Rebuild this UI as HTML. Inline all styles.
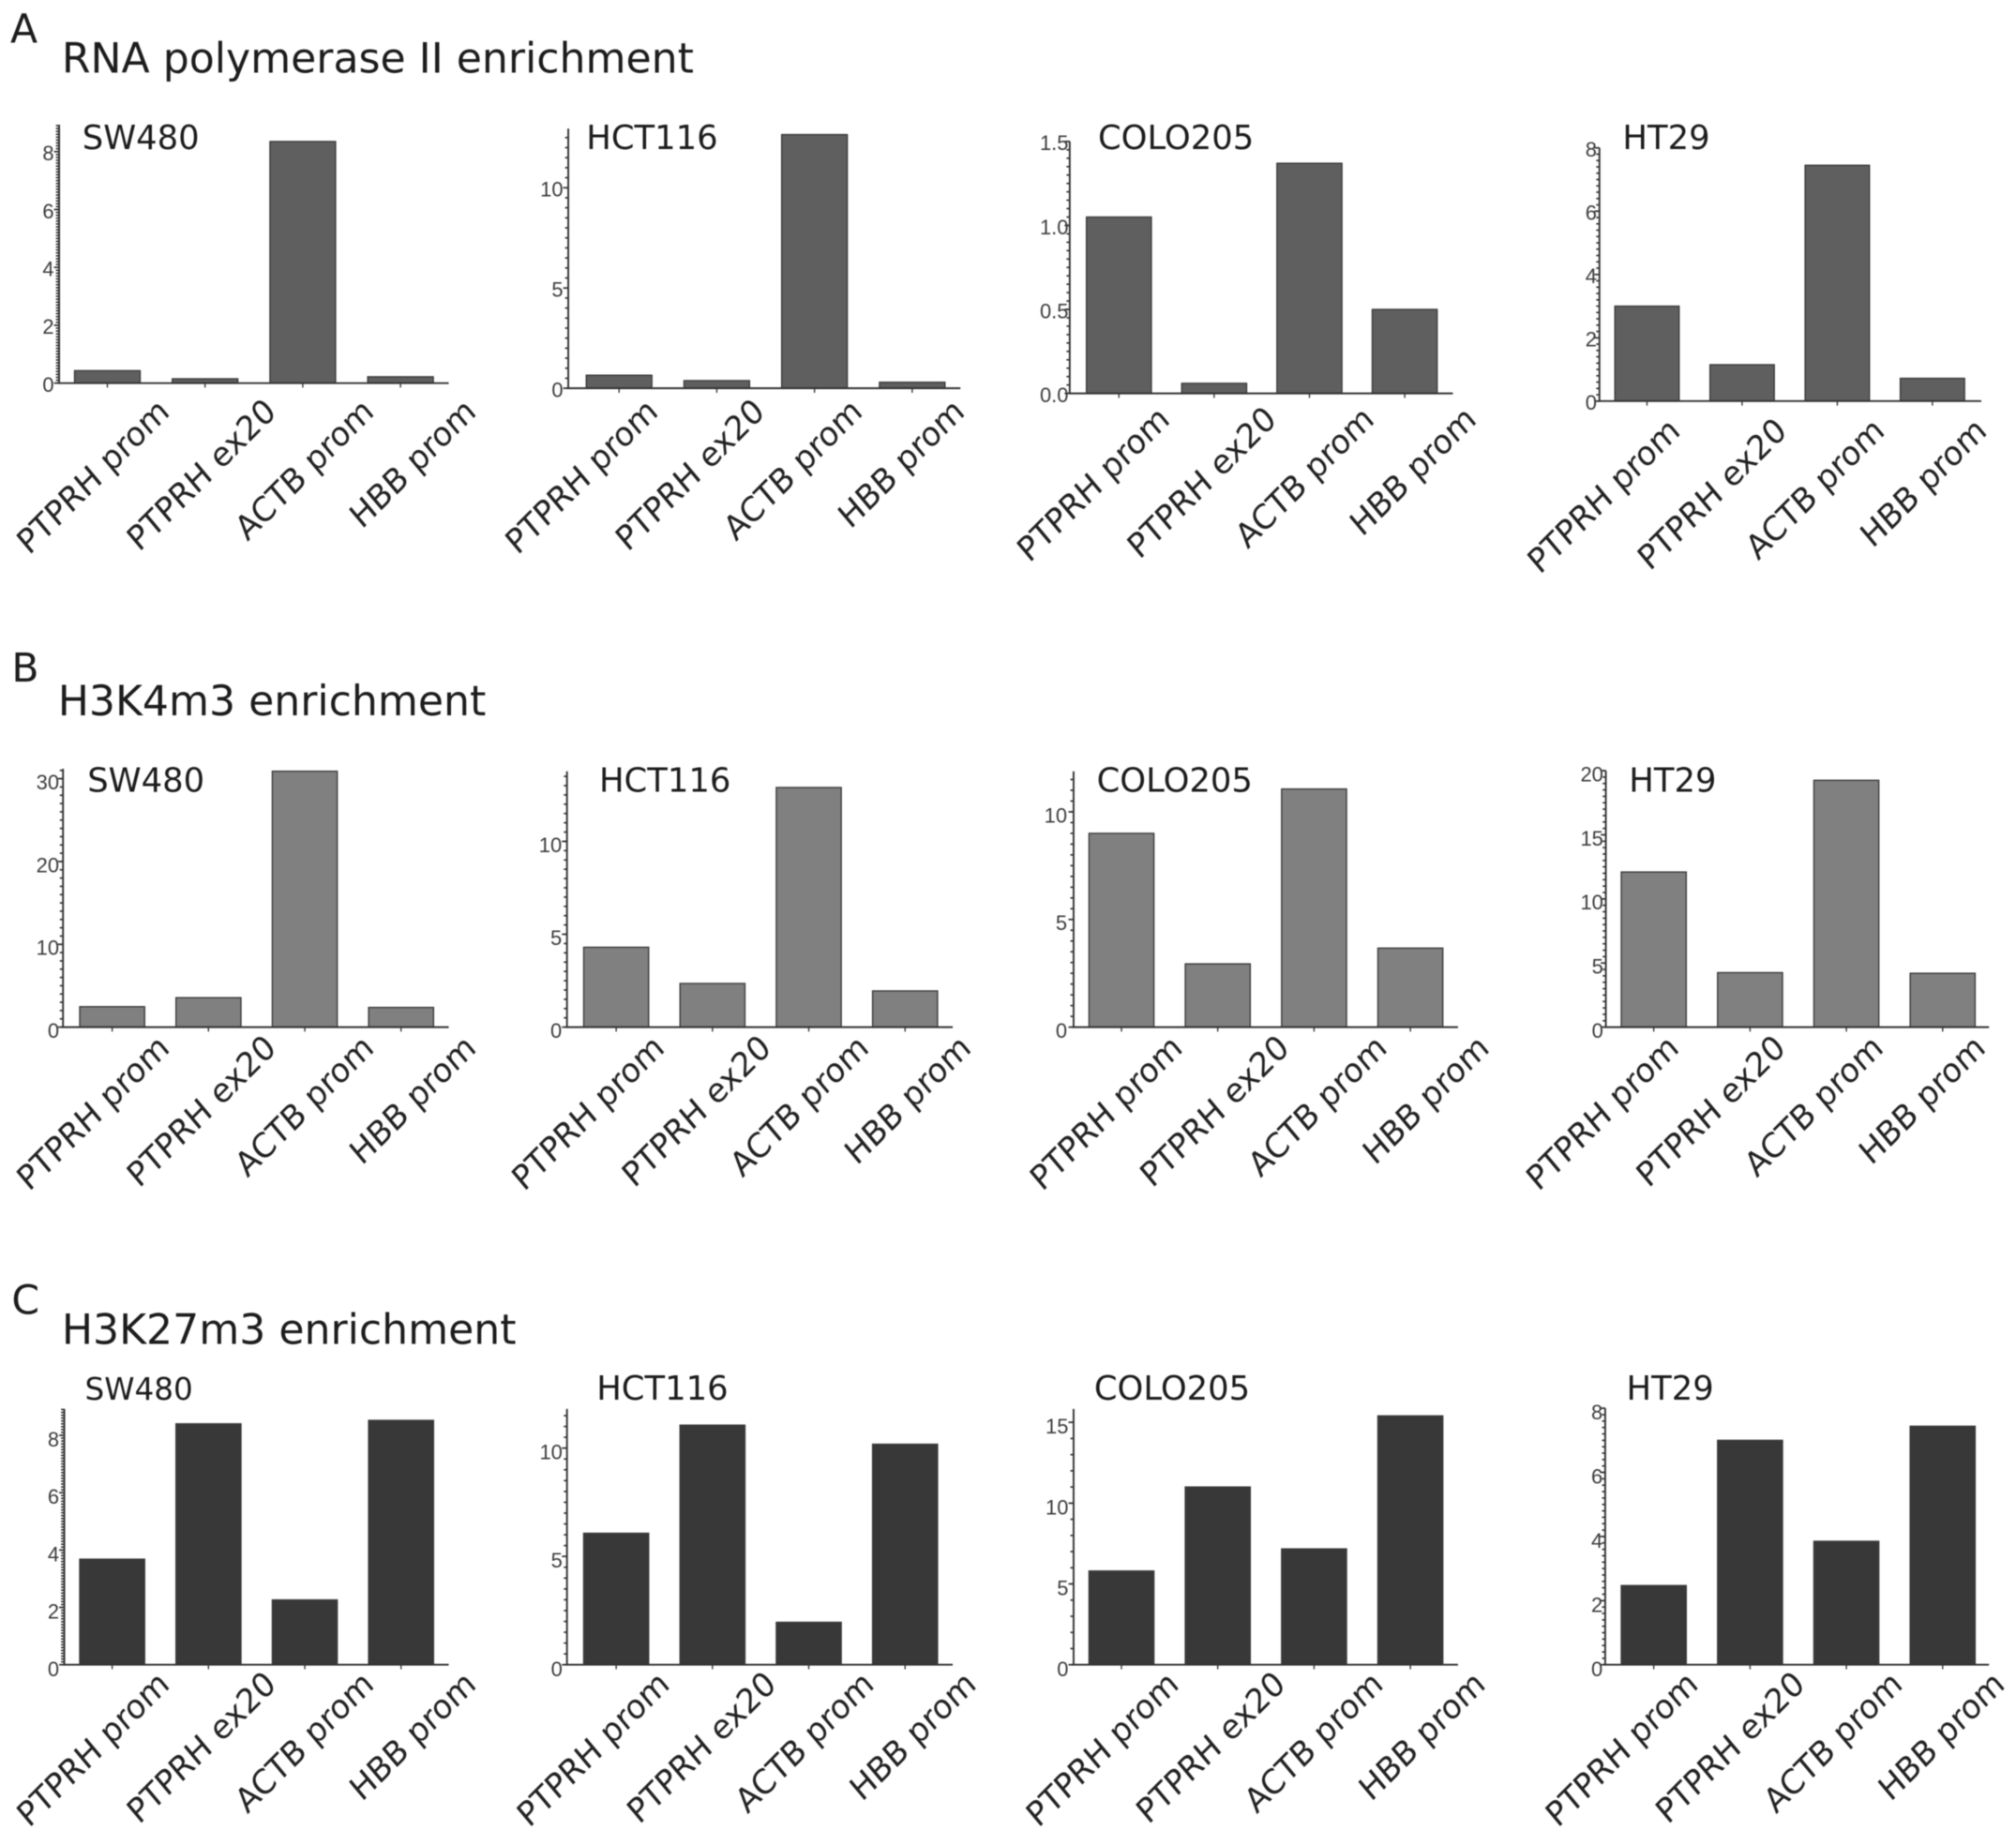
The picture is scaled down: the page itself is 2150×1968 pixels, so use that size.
<!DOCTYPE html>
<html lang="en">
<head>
<meta charset="utf-8">
<title>Enrichment bar charts</title>
<style>
html,body{margin:0;padding:0;background:#fff;}
body{width:2150px;height:1968px;overflow:hidden;}
svg{display:block;filter:blur(0.6px);}
text{font-family:"DejaVu Sans","Liberation Sans",sans-serif;fill:#1c1c1c;}
.tick-label{font-family:"Liberation Sans",sans-serif;font-size:16px;fill:#3c3c3c;text-anchor:end;}
.cat-label{font-size:25.2px;text-anchor:end;fill:#222;}
.cell-name{font-size:25.8px;}
.panel-letter{font-size:31px;}
.section-title{font-size:32.2px;}
</style>
</head>
<body>
<svg id="figure" xmlns="http://www.w3.org/2000/svg" width="2150" height="1968" viewBox="0 0 1568 1435.2">
  <rect x="0" y="0" width="1568" height="1435.2" fill="#fff"/>
  <text class="panel-letter" x="8" y="33">A</text>
  <text class="section-title" x="48" y="56.5">RNA polymerase II enrichment</text>
  <text class="panel-letter" x="9" y="530">B</text>
  <text class="section-title" x="45" y="556.5">H3K4m3 enrichment</text>
  <text class="panel-letter" x="9" y="1022">C</text>
  <text class="section-title" x="48" y="1045.5">H3K27m3 enrichment</text>
</svg>
<script>
// Categories shared by every chart
const categories = ['PTPRH prom', 'PTPRH ex20', 'ACTB prom', 'HBB prom'];

// Series values: RNA polymerase II
const polSW480 = [0.43, 0.15, 8.35, 0.22];
const polHCT116 = [0.65, 0.38, 12.65, 0.3];
const polCOLO205 = [1.05, 0.06, 1.37, 0.5];
const polHT29 = [3.0, 1.15, 7.45, 0.72];

// Series values: H3K4m3
const k4SW480 = [2.47, 3.56, 30.9, 2.38];
const k4HCT116 = [4.3, 2.35, 12.9, 1.95];
const k4COLO205 = [9.0, 2.94, 11.06, 3.67];
const k4HT29 = [12.1, 4.25, 19.25, 4.2];

// Series values: H3K27m3
const k27SW480 = [3.68, 8.4, 2.26, 8.52];
const k27HCT116 = [6.07, 11.06, 1.96, 10.18];
const k27COLO205 = [5.8, 11.0, 7.17, 15.4];
const k27HT29 = [2.47, 7.0, 3.85, 7.44];

// Tick labels
const ticksPolSW480 = [0, 2, 4, 6, 8];
const ticksPolHCT116 = [0, 5, 10];
const ticksPolCOLO205 = ['0.0', '0.5', '1.0', '1.5'];
const ticksPolHT29 = [0, 2, 4, 6, 8];
const ticksK4SW480 = [0, 10, 20, 30];
const ticksK4HCT116 = [0, 5, 10];
const ticksK4COLO205 = [0, 5, 10];
const ticksK4HT29 = [0, 5, 10, 15, 20];
const ticksK27SW480 = [0, 2, 4, 6, 8];
const ticksK27HCT116 = [0, 5, 10];
const ticksK27COLO205 = [0, 5, 10, 15];
const ticksK27HT29 = [0, 2, 4, 6, 8];

// Chart layout (geometry only, separate from the data)
const rowA = {fill: '#5f5f5f', barW: 51, step: 76, labelDy: 1};
const rowB = {fill: '#808080', barW: 50.5, step: 74.9, labelDy: 2.5};
const rowC = {fill: '#383838', barW: 50.5, step: 74.9, labelDy: 3};
const charts = [
  {id: 'pol-sw480', name: 'SW480', nx: 64, ny: 116, row: rowA, values: polSW480, ticks: ticksPolSW480, yMax: 8.93, minor: 0.1, left: 46, right: 349, base: 298, top: 97, bar0: 58, labelEnd: 133, labelY: 322, tickGap: 4},
  {id: 'pol-hct116', name: 'HCT116', nx: 456, ny: 116, row: rowA, values: polHCT116, ticks: ticksPolHCT116, yMax: 12.95, minor: 0.5, left: 442, right: 747, base: 302, top: 100, bar0: 456, labelEnd: 513, labelY: 322, tickGap: 4},
  {id: 'pol-colo205', name: 'COLO205', nx: 854, ny: 116, row: rowA, values: polCOLO205, ticks: ticksPolCOLO205, yMax: 1.5, minor: 0.05, left: 832, right: 1130, base: 306, top: 110, bar0: 845, step: 74.1, barW: 50.5, labelEnd: 911, labelY: 328, tickGap: 1},
  {id: 'pol-ht29', name: 'HT29', nx: 1262, ny: 116, row: rowA, values: polHT29, ticks: ticksPolHT29, yMax: 8, minor: 0.2, left: 1244, right: 1541, base: 312, top: 115, bar0: 1256, step: 74, barW: 50, labelEnd: 1308, labelY: 337, tickGap: 2},

  {id: 'k4-sw480', name: 'SW480', nx: 68, ny: 616, row: rowB, values: k4SW480, ticks: ticksK4SW480, yMax: 31.2, minor: 1, left: 49, right: 349, base: 799, top: 598, bar0: 62, labelEnd: 133, labelY: 817, tickGap: 3},
  {id: 'k4-hct116', name: 'HCT116', nx: 466, ny: 616, row: rowB, values: k4HCT116, ticks: ticksK4HCT116, yMax: 13.77, minor: 0.5, left: 441, right: 741, base: 799, top: 600, bar0: 454, labelEnd: 518, labelY: 817, tickGap: 4},
  {id: 'k4-colo205', name: 'COLO205', nx: 853, ny: 616, row: rowB, values: k4COLO205, ticks: ticksK4COLO205, yMax: 11.88, minor: 0.5, left: 835, right: 1134, base: 799, top: 600, bar0: 847, labelEnd: 921, labelY: 817, tickGap: 5},
  {id: 'k4-ht29', name: 'HT29', nx: 1267, ny: 616, row: rowB, values: k4HT29, ticks: ticksK4HT29, yMax: 20, minor: 0.5, left: 1249, right: 1547, base: 799, top: 599.5, bar0: 1261, labelEnd: 1307, labelY: 817, tickGap: 2},

  {id: 'k27-sw480', name: 'SW480', nx: 66, ny: 1089, nameSize: 23.8, row: rowC, values: k27SW480, ticks: ticksK27SW480, yMax: 8.92, minor: 0.1, left: 50, right: 349, base: 1295, top: 1096, bar0: 62, labelEnd: 133, labelY: 1312, tickGap: 4},
  {id: 'k27-hct116', name: 'HCT116', nx: 464, ny: 1089, row: rowC, values: k27HCT116, ticks: ticksK27HCT116, yMax: 11.81, minor: 0.5, left: 441, right: 741, base: 1295, top: 1096, bar0: 454, labelEnd: 522, labelY: 1312, tickGap: 3.5},
  {id: 'k27-colo205', name: 'COLO205', nx: 851, ny: 1089, row: rowC, values: k27COLO205, ticks: ticksK27COLO205, yMax: 15.83, minor: 1, left: 835, right: 1134, base: 1295, top: 1096, bar0: 847, labelEnd: 918, labelY: 1312, tickGap: 4},
  {id: 'k27-ht29', name: 'HT29', nx: 1265, ny: 1089, row: rowC, values: k27HT29, ticks: ticksK27HT29, yMax: 8, minor: 0.2, left: 1248.5, right: 1547, base: 1295, top: 1095.5, bar0: 1261, labelEnd: 1322, labelY: 1312, tickGap: 2}
];
const labelStep = 79.5;
const labelNudge = [0, 3.5, 0, 0];
const labelAngle = -45;
const labelShear = -5;

const SVG_NS = 'http://www.w3.org/2000/svg';
const figure = document.getElementById('figure');

function make(parent, tag, props, content) {
  const node = document.createElementNS(SVG_NS, tag);
  for (const key in props) node.setAttribute(key, props[key]);
  if (content !== undefined) node.textContent = content;
  parent.appendChild(node);
  return node;
}

function yScale(c, v) {
  return c.base - (v / c.yMax) * (c.base - c.top);
}

function xBar(c, i) {
  return c.bar0 + i * (c.step || c.row.step);
}

function drawChart(c) {
  const g = make(figure, 'g', {});
  
  

  const title = make(g, 'text', {class: 'cell-name', x: c.nx, y: c.ny}, c.name);
  
  
  if (c.nameSize) title.style.fontSize = c.nameSize + 'px';

  const barW = c.barW || c.row.barW;
  c.values.forEach(function (v, i) {
    const y = yScale(c, v);
    const bar = make(g, 'rect', {x: xBar(c, i), y: y, width: barW, height: c.base - y, fill: c.row.fill, stroke: '#3a3a3a', 'stroke-width': 1});
    
    
  });

  // Minor y ticks
  const minorCount = Math.floor(c.yMax / c.minor + 1e-6);
  for (let k = 0; k <= minorCount; k++) {
    const y = yScale(c, k * c.minor);
    const mt = make(g, 'line', {x1: c.left - 2.5, x2: c.left, y1: y, y2: y, stroke: '#333', 'stroke-width': 1.2});
    
    
  }

  // Major y ticks and labels
  c.ticks.forEach(function (t) {
    const y = yScale(c, Number(t));
    const major = make(g, 'line', {x1: c.left - 4, x2: c.left, y1: y, y2: y, stroke: '#333', 'stroke-width': 1.2});
    
    
    const lab = make(g, 'text', {class: 'tick-label', x: c.left - c.tickGap, y: y + 5.8 + c.row.labelDy}, String(t));
    
    
  });

  // Axis lines
  const yAxis = make(g, 'line', {x1: c.left, x2: c.left, y1: c.top, y2: c.base, stroke: '#333', 'stroke-width': 1.4});
  
  
  const xAxis = make(g, 'line', {x1: c.left - 1, x2: c.right, y1: c.base, y2: c.base, stroke: '#333', 'stroke-width': 1.4});
  
  

  // Category ticks and rotated labels
  categories.forEach(function (name, i) {
    const cx = xBar(c, i) + barW / 2;
    const xt = make(g, 'line', {x1: cx, x2: cx, y1: c.base, y2: c.base + 3.5, stroke: '#333', 'stroke-width': 1});
    
    
    const lx = c.labelEnd + i * labelStep + labelNudge[i];
    const lab = make(g, 'text', {class: 'cat-label', x: 0, y: 0, transform: 'translate(' + lx + ' ' + c.labelY + ') rotate(' + labelAngle + ') skewX(' + labelShear + ')'}, name);
    
    
  });
}

charts.forEach(drawChart);
</script>
</body>
</html>
